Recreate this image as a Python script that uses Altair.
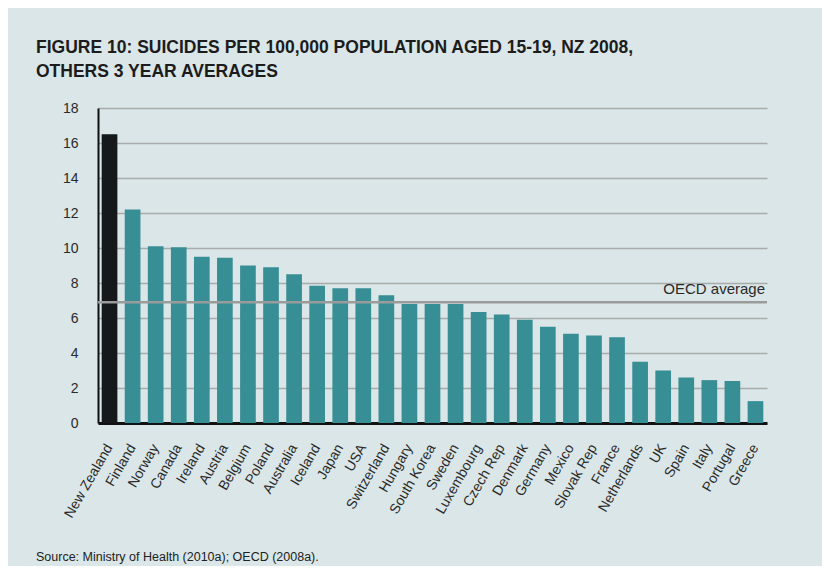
import altair as alt
import pandas as pd

countries = ["New Zealand", "Finland", "Norway", "Canada", "Ireland", "Austria",
             "Belgium", "Poland", "Australia", "Iceland", "Japan", "USA",
             "Switzerland", "Hungary", "South Korea", "Sweden", "Luxembourg",
             "Czech Rep", "Denmark", "Germany", "Mexico", "Slovak Rep", "France",
             "Netherlands", "UK", "Spain", "Italy", "Portugal", "Greece"]
rates = [16.5, 12.2, 10.1, 10.05, 9.5, 9.45, 9.0, 8.9, 8.5, 7.85, 7.7, 7.7,
         7.3, 6.8, 6.8, 6.8, 6.35, 6.2, 5.9, 5.5, 5.1, 5.0, 4.9,
         3.5, 3.0, 2.6, 2.45, 2.4, 1.25]
groups = ["NZ"] + ["Other"] * (len(countries) - 1)

oecd_average = 6.9
oecd_label = "OECD average"
title_lines = ["FIGURE 10: SUICIDES PER 100,000 POPULATION AGED 15-19, NZ 2008,",
               "OTHERS 3 YEAR AVERAGES"]
source_text = "Source: Ministry of Health (2010a); OECD (2008a)."
y_ticks = [0, 2, 4, 6, 8, 10, 12, 14, 16, 18]

df = pd.DataFrame({"country": countries, "rate": rates, "group": groups})
ref_df = pd.DataFrame({"rate": [oecd_average], "label": [oecd_label]})
src_df = pd.DataFrame({"t": [source_text]})

FONT = "Liberation Sans"
W, H = 669, 315

y_scale = alt.Scale(domain=[0, 18], nice=False)
y_axis = alt.Axis(values=y_ticks, labelFontSize=14, labelFont=FONT,
                  labelColor="#2a2a2a", labelPadding=20, ticks=False,
                  labelOverlap=False, domainColor="#111111", domainWidth=2,
                  grid=True, gridColor="#a8acad", gridWidth=1.5)

def y_enc():
    return alt.Y("rate:Q", title=None, scale=y_scale, axis=y_axis)

x_enc = alt.X("country:N", sort=None, title=None,
              scale=alt.Scale(paddingInner=0.32, paddingOuter=0.16),
              axis=alt.Axis(labelAngle=-60, labelFontSize=14, labelFont=FONT,
                            labelColor="#2a2a2a", labelPadding=22, ticks=False,
                            domainColor="#111111", domainWidth=3, labelOverlap=False))

bars = alt.Chart(df).mark_bar().encode(
    x=x_enc,
    y=y_enc(),
    color=alt.Color("group:N", legend=None,
                    scale=alt.Scale(domain=["NZ", "Other"], range=["#151919", "#378e95"])),
)

rule = alt.Chart(ref_df).mark_rule(color="#9a9c9c", strokeWidth=2.5).encode(y=y_enc())
ref_text = alt.Chart(ref_df).mark_text(
    align="right", baseline="bottom", dy=-5, fontSize=15, font=FONT, color="#2a2a2a"
).encode(x=alt.value(W - 2), y=y_enc(), text="label:N")

src = alt.Chart(src_df).mark_text(
    align="left", baseline="alphabetic", fontSize=12.5, font=FONT, color="#222222"
).encode(x=alt.value(-62), y=alt.value(453), text="t:N")

chart = alt.layer(bars, rule, ref_text, src).properties(
    width=W, height=H,
    autosize=alt.AutoSizeParams(type="none"),
    padding={"left": 90, "top": 100, "right": 55, "bottom": 143},
    background="#dae6e7",
    title=alt.TitleParams(text=title_lines, anchor="start", frame="group", dx=-62,
                          offset=21, fontSize=17.5, font=FONT, fontWeight="bold",
                          color="#1c1c1c", lineHeight=24),
).configure_view(stroke=None)

chart.save("out.html", embed_options={"renderer": "svg", "actions": False})
